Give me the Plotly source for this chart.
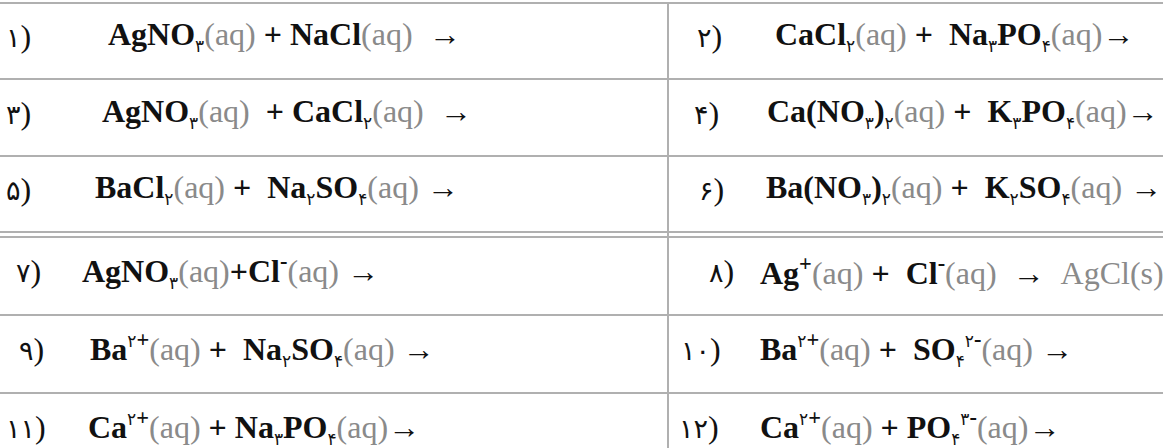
import plotly.graph_objects as go

# ---------------- data ----------------
row_numbers_left = ["۱", "۳", "۵", "۷", "۹", "۱۱"]
row_numbers_right = ["۲", "۴", "۶", "۸", "۱۰", "۱۲"]

equations_left = [
    "AgNO_۳(aq) + NaCl(aq)  →",
    "AgNO_۳(aq)  + CaCl_۲(aq)  →",
    "BaCl_۲(aq) +  Na_۲SO_۴(aq) →",
    "AgNO_۳(aq)+Cl^-(aq) →",
    "Ba^{۲+}(aq) +  Na_۲SO_۴(aq) →",
    "Ca^{۲+}(aq) + Na_۳PO_۴(aq)→",
]
equations_right = [
    "CaCl_۲(aq) +  Na_۳PO_۴(aq)→",
    "Ca(NO_۳)_۲(aq) +  K_۳PO_۴(aq)→",
    "Ba(NO_۳)_۲(aq) +  K_۲SO_۴(aq) →",
    "Ag^+(aq) +  Cl^-(aq)  →  [AgCl(s)]",
    "Ba^{۲+}(aq) +  SO_۴^{۲-}(aq) →",
    "Ca^{۲+}(aq) + PO_۴^{۳-}(aq)→",
]

# ---------------- layout constants ----------------
W, H = 1163, 448
GRAY_TXT = "#8a8a8a"
LINE_COL = "#b0b0b0"
FONT = "Liberation Serif, 'Times New Roman', DejaVu Sans, serif"
FS = 32
SCRIPT_DIGIT_PX = 17
LABEL_DIGIT_PX = 27

top_bounds = [3, 79, 156, 232]
bot_bounds = [237, 315, 393, 471]
col_split = 668

label_x_left = [33, 33, 33, 43, 46, 48]
label_x_right = [724, 721, 726, 736, 723, 721]
eq_x_left = [106, 100, 93, 80, 88, 86]
eq_x_right = [773, 765, 764, 758, 758, 758]
TEXT_RAISE = 5

PERSIAN_DIGITS = set("۰۱۲۳۴۵۶۷۸۹")


def script_body(body):
    parts = []
    for ch in body:
        if ch in PERSIAN_DIGITS:
            parts.append(f"<span style='font-size:{SCRIPT_DIGIT_PX}px'>{ch}</span>")
        else:
            parts.append(f"<b>{ch}</b>")
    return "".join(parts)


def fmt(eq):
    """Convert mini-markup to plotly rich text."""
    out = []
    i = 0
    n = len(eq)
    gray_mode = False
    while i < n:
        c = eq[i]
        if c == "[":
            gray_mode = True
            out.append(f"<span style='color:{GRAY_TXT}'>")
            i += 1
            continue
        if c == "]":
            gray_mode = False
            out.append("</span>")
            i += 1
            continue
        if eq.startswith("(aq)", i) or eq.startswith("(s)", i):
            tok = "(aq)" if eq.startswith("(aq)", i) else "(s)"
            out.append(tok if gray_mode else f"<span style='color:{GRAY_TXT}'>{tok}</span>")
            i += len(tok)
            continue
        if c in "_^":
            tag = "sub" if c == "_" else "sup"
            if i + 1 < n and eq[i + 1] == "{":
                j = eq.index("}", i)
                body = eq[i + 2:j]
                i = j + 1
            else:
                body = eq[i + 1]
                i += 2
            out.append(f"<{tag}>{script_body(body)}</{tag}>")
            continue
        if c == " ":
            out.append("\u00a0")
            i += 1
            continue
        if c == "→":
            out.append("→")
            i += 1
            continue
        j = i
        while j < n and eq[j] not in "_^ []→" and not eq.startswith("(aq)", j) and not eq.startswith("(s)", j):
            j += 1
        run = eq[i:j]
        out.append(run if gray_mode else f"<b>{run}</b>")
        i = j
    return "".join(out)


def centers(b):
    return [(b[k] + b[k + 1]) / 2 for k in range(len(b) - 1)]


fig = go.Figure()
fig.add_trace(go.Scatter(x=[0, W], y=[0, H], mode="markers",
                         marker=dict(opacity=0), hoverinfo="skip", showlegend=False))

for y in top_bounds + bot_bounds[:-1]:
    fig.add_shape(type="line", x0=0, x1=W, y0=y, y1=y,
                  line=dict(color=LINE_COL, width=2), layer="below")
fig.add_shape(type="line", x0=col_split, x1=col_split, y0=top_bounds[0], y1=H,
              line=dict(color=LINE_COL, width=2), layer="below")

row_y = centers(top_bounds) + centers(bot_bounds)

for idx, yc in enumerate(row_y):
    y = yc - TEXT_RAISE
    cols = [
        (row_numbers_left[idx], equations_left[idx], label_x_left[idx], eq_x_left[idx]),
        (row_numbers_right[idx], equations_right[idx], label_x_right[idx], eq_x_right[idx]),
    ]
    for num, eq, lx, ex in cols:
        fig.add_annotation(x=lx, y=y,
                           text=f"<span style='font-size:{LABEL_DIGIT_PX}px'>{num}</span>)",
                           showarrow=False, xanchor="right", yanchor="middle",
                           font=dict(family=FONT, size=FS, color="#111"))
        fig.add_annotation(x=ex, y=y, text=fmt(eq),
                           showarrow=False, xanchor="left", yanchor="middle",
                           font=dict(family=FONT, size=FS, color="#111"))

fig.update_layout(
    width=W, height=H,
    margin=dict(l=0, r=0, t=0, b=0),
    paper_bgcolor="white", plot_bgcolor="white",
    xaxis=dict(range=[0, W], visible=False, fixedrange=True),
    yaxis=dict(range=[H, 0], visible=False, fixedrange=True),
    showlegend=False,
)

fig.write_html("out.html", config={"displayModeBar": False},
               post_script="document.body.style.margin='0';")
